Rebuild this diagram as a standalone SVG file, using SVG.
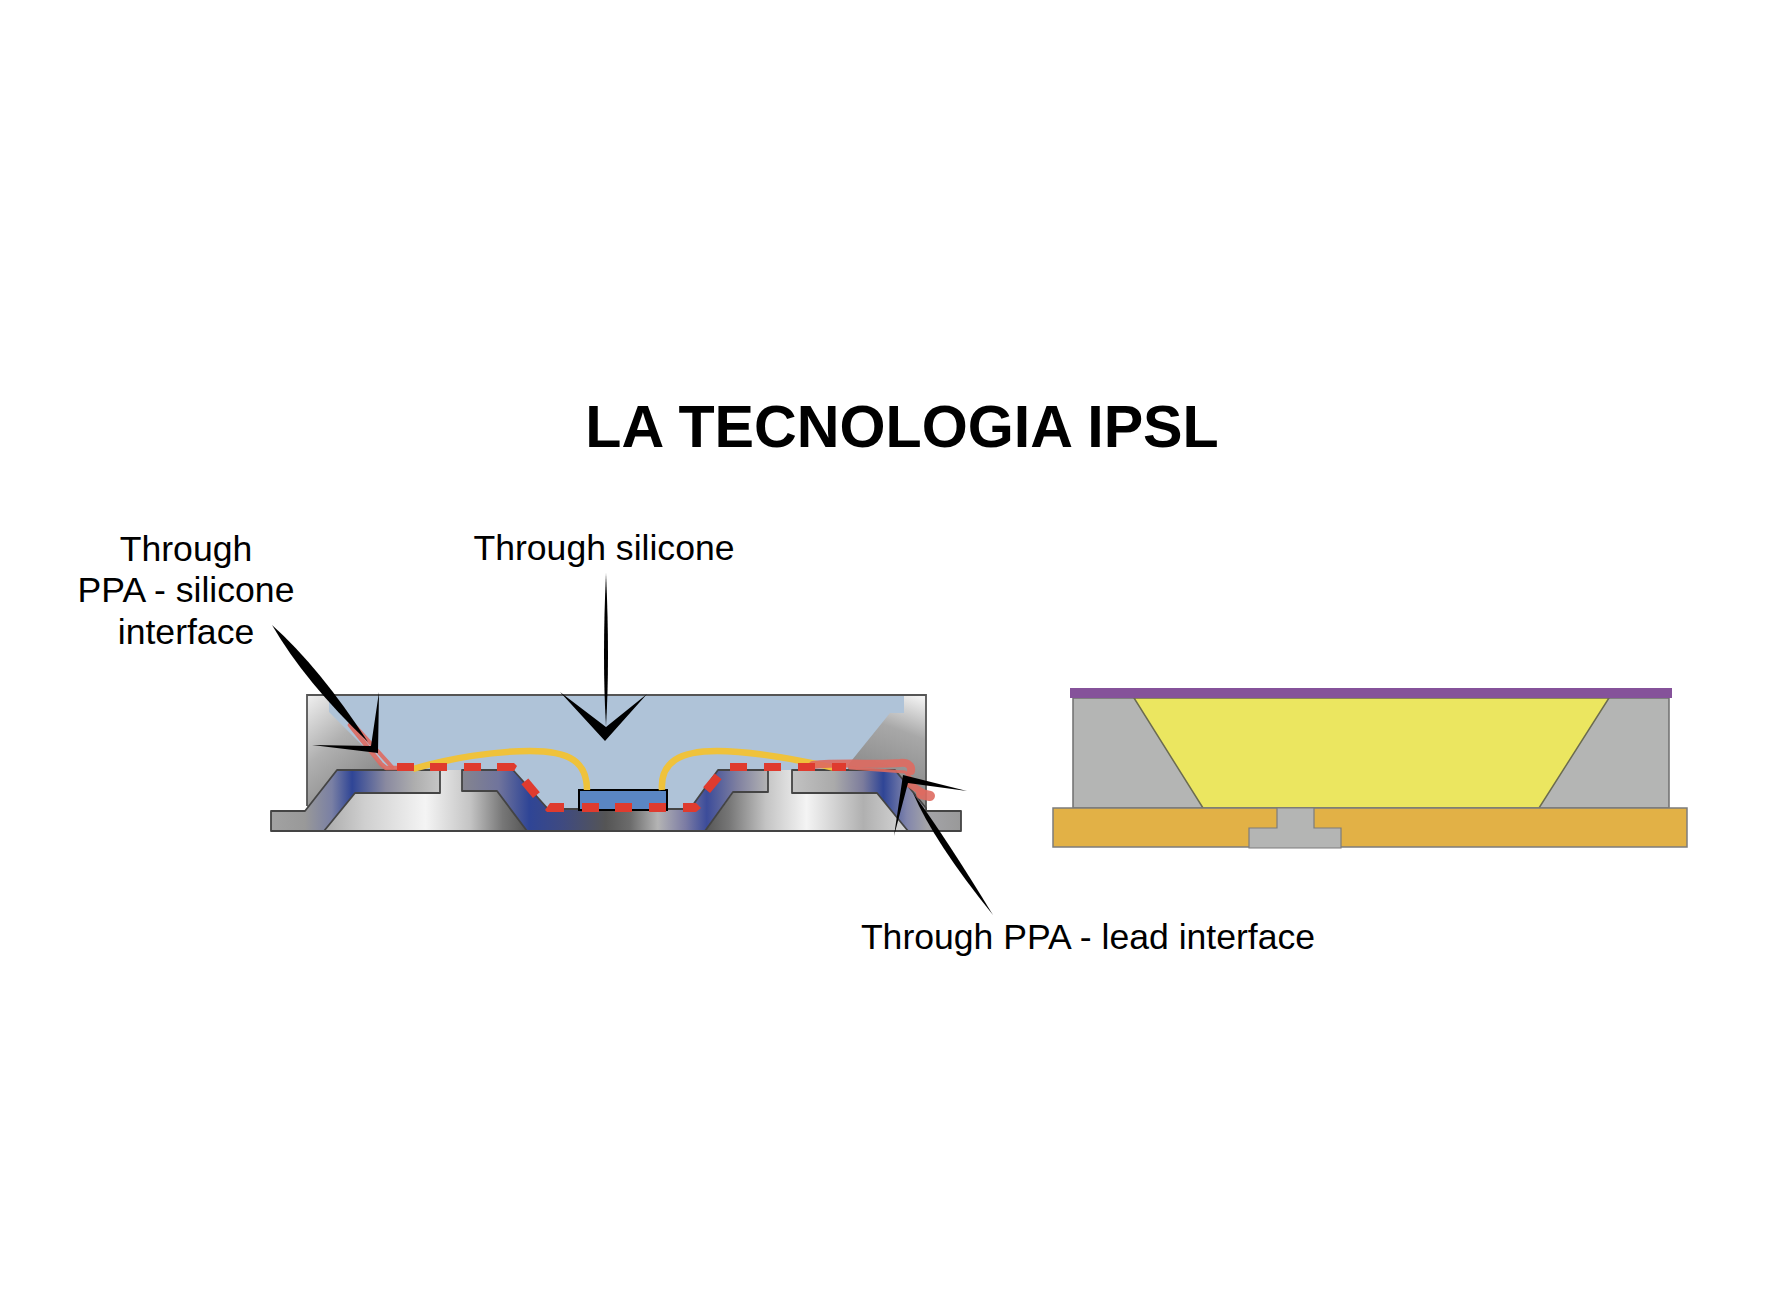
<svg xmlns="http://www.w3.org/2000/svg" width="1772" height="1315" viewBox="0 0 1772 1315">
<style>
text{font-family:"Liberation Sans",Arial,sans-serif;fill:#000}
.lbl{font-size:35.6px}
.title{font-size:59.2px;font-weight:700}
.ln{stroke:#444;stroke-width:1.8;stroke-linejoin:round}
.wire{fill:none;stroke:#EFC23B;stroke-width:6.5}
.dash{fill:#DF3B2E}
.leak{fill:none;stroke:#DE6A60;stroke-linecap:round;stroke-linejoin:round;opacity:.9}
.ptr{fill:#000}
.g2{fill:#B4B5B4;stroke:#6f6f6f;stroke-width:1.5}
</style>
<defs>
<linearGradient id="wallL" gradientUnits="userSpaceOnUse" x1="310" y1="697" x2="375" y2="775"><stop offset="0" stop-color="#ececec"/><stop offset=".5" stop-color="#b0b0b0"/><stop offset="1" stop-color="#8c8c8c"/></linearGradient>
<linearGradient id="wallR" gradientUnits="userSpaceOnUse" x1="915" y1="695" x2="885" y2="775"><stop offset="0" stop-color="#f2f2f2"/><stop offset=".45" stop-color="#a8a8a8"/><stop offset="1" stop-color="#8e8e8e"/></linearGradient>
<linearGradient id="leadL" gradientUnits="userSpaceOnUse" x1="271" y1="0" x2="440" y2="0"><stop offset="0" stop-color="#a2a2a2"/><stop offset=".2" stop-color="#999"/><stop offset=".36" stop-color="#7a80a4"/><stop offset=".48" stop-color="#2f4596"/><stop offset=".68" stop-color="#8a8aa0"/><stop offset=".85" stop-color="#aeaeae"/><stop offset="1" stop-color="#c6c6c6"/></linearGradient>
<linearGradient id="leadC" gradientUnits="userSpaceOnUse" x1="462" y1="0" x2="768" y2="0"><stop offset="0" stop-color="#85858f"/><stop offset=".12" stop-color="#70749c"/><stop offset=".22" stop-color="#2f4596"/><stop offset=".33" stop-color="#3f4a80"/><stop offset=".47" stop-color="#555"/><stop offset=".55" stop-color="#6c6c6c"/><stop offset=".64" stop-color="#b4b4b4"/><stop offset=".73" stop-color="#7c7ca4"/><stop offset=".8" stop-color="#3c4c9a"/><stop offset=".9" stop-color="#7f80a0"/><stop offset="1" stop-color="#b4b4b4"/></linearGradient>
<linearGradient id="leadR" gradientUnits="userSpaceOnUse" x1="792" y1="0" x2="961" y2="0"><stop offset="0" stop-color="#c2c2c2"/><stop offset=".25" stop-color="#aaa"/><stop offset=".42" stop-color="#7c7c9c"/><stop offset=".54" stop-color="#2f4596"/><stop offset=".68" stop-color="#8286ac"/><stop offset=".8" stop-color="#a4a4a8"/><stop offset="1" stop-color="#999"/></linearGradient>
<linearGradient id="baseL" gradientUnits="userSpaceOnUse" x1="324" y1="0" x2="527" y2="0"><stop offset="0" stop-color="#aaa"/><stop offset=".2" stop-color="#cfcfcf"/><stop offset=".5" stop-color="#f4f4f4"/><stop offset=".72" stop-color="#c4c4c4"/><stop offset=".88" stop-color="#777"/><stop offset="1" stop-color="#555"/></linearGradient>
<linearGradient id="baseR" gradientUnits="userSpaceOnUse" x1="705" y1="0" x2="908" y2="0"><stop offset="0" stop-color="#555"/><stop offset=".12" stop-color="#777"/><stop offset=".3" stop-color="#c4c4c4"/><stop offset=".5" stop-color="#f4f4f4"/><stop offset=".78" stop-color="#b0b0b0"/><stop offset="1" stop-color="#d8d8d8"/></linearGradient>
</defs>
<rect width="1772" height="1315" fill="#fff"/>
<g id="title"><text class="title" x="902" y="447" text-anchor="middle">LA TECNOLOGIA IPSL</text></g>
<g id="ipsl-package">
<path id="wall-left" d="M307 695H400V775H340L305 811H307Z" fill="url(#wallL)"/>
<path id="wall-right" d="M840 695H926V811H840Z" fill="url(#wallR)"/>
<path id="silicone" d="M329 695H904V713H890L848 765V771H718L690 809H548L513 771H388L329 712Z" fill="#AFC3D8"/>
<path id="outline" d="M307 806V695H926V811" fill="none" stroke="#555" stroke-width="1.8"/>
<path id="base-left" d="M324 831L355 793H440V770H462V791H497L527 831Z" fill="url(#baseL)"/>
<path id="base-right" d="M705 831L733 793H768V770H792V793H877L908 831Z" fill="url(#baseR)"/>
<path id="lead-left" d="M271 811H305L337 770H440V793H355L324 831H271Z" fill="url(#leadL)" class="ln"/>
<path id="lead-center" d="M462 770H513L548 809H690L718 770H768V792H733L705 831H527L497 791H462Z" fill="url(#leadC)" class="ln"/>
<path id="lead-right" d="M792 770H895L926 808V811H961V831H908L877 793H792Z" fill="url(#leadR)" class="ln"/>
<path id="base-line" d="M324 831H527M705 831H908" stroke="#444" stroke-width="1.8" fill="none"/>
<rect id="chip" x="579" y="790" width="88" height="20" fill="#5A86C4" stroke="#000" stroke-width="2"/>
<path id="wire-left" class="wire" d="M413 769C450 758 495 751 530 751C570 751 587 762 587 790"/>
<path id="wire-right" class="wire" d="M662 790C660 762 680 751 717 751C750 751 790 758 835 768"/>
<g id="leak-paths">
<path class="leak" stroke-width="4.5" d="M350 725L381 764L386 768H400"/>
<path class="leak" stroke-width="4" d="M356 727L392 767"/>
<path class="leak" stroke-width="8" d="M813 765C840 762 880 765 900 763C908 762 912 766 911 771"/>
<path class="leak" stroke-width="3" d="M850 768L905 772L914 781"/>
<path class="leak" stroke-width="7" d="M906 782L922 792"/>
<path class="leak" stroke-width="10" d="M921 794L930 796"/>
</g>
<g id="dashes" class="dash">
<rect x="397" y="763" width="17" height="8"/><rect x="430" y="763" width="17" height="8"/><rect x="464" y="763" width="17" height="8"/><path d="M497 763H514L517 766L514 771H497Z"/>
<rect x="522" y="784" width="18" height="9" transform="rotate(50 531 788)"/>
<path d="M550 803H564V812H547L545 810Z"/>
<rect x="582" y="803" width="17" height="9"/><rect x="615" y="803" width="17" height="9"/><rect x="649" y="803" width="17" height="9"/><path d="M683 803H696L701 808L696 812H683Z"/>
<rect x="703" y="779" width="18" height="9" transform="rotate(-50 712 783)"/>
<rect x="730" y="763" width="17" height="8"/><rect x="764" y="763" width="17" height="8"/><rect x="798" y="763" width="17" height="8"/><rect x="832" y="763" width="14" height="8"/>
</g>
</g>
<g id="led-section">
<rect id="led-body" class="g2" x="1073" y="698" width="596" height="110"/>
<path id="phosphor" d="M1134 698H1609L1539 808H1203Z" fill="#EBE660" stroke="#6b6b50" stroke-width="1.5"/>
<rect id="substrate" x="1053" y="808" width="634" height="39" fill="#E2B146" stroke="#7c7c7c" stroke-width="1.5"/>
<path id="thermal-pad" d="M1277 808H1314V828H1341V848H1249V828H1277Z" fill="#B4B5B4" stroke="#7c7c7c" stroke-width="1.2"/>
<rect id="filter" x="1070" y="688" width="602" height="10" fill="#85529A"/>
</g>
<g id="connectors" class="ptr">
<path d="M606 573Q610 660 606 726Q602 660 606 573Z"/>
<path d="M560 692L605 741L647 694L606 727Z"/>
<path d="M272 625Q320 668 368 742Q305 682 272 625Z"/>
<path d="M379 692L378 753L312 745L371 746Z"/>
<path d="M993 915Q946 838 913 793Q934 842 993 915Z"/>
<path d="M967 791L903 775L894 836L908 783Z"/>
</g>
<g id="labels">
<text class="lbl" x="186" y="561" text-anchor="middle">Through</text>
<text class="lbl" x="186" y="602" text-anchor="middle">PPA - silicone</text>
<text class="lbl" x="186" y="644" text-anchor="middle">interface</text>
<text class="lbl" x="604" y="560" text-anchor="middle">Through silicone</text>
<text class="lbl" x="1088" y="949" text-anchor="middle">Through PPA - lead interface</text>
</g>
</svg>
